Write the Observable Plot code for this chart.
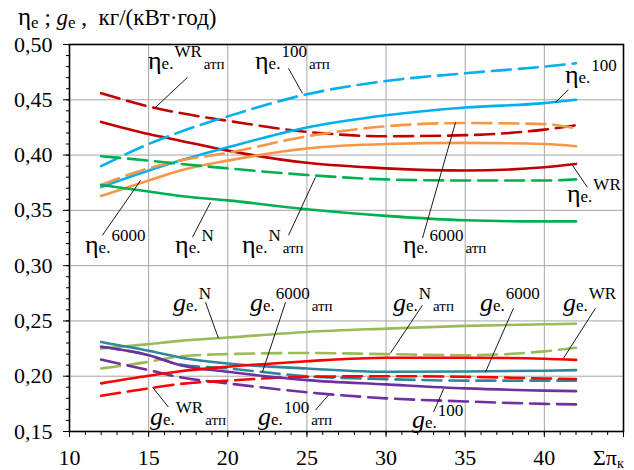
<!DOCTYPE html>
<html><head><meta charset="utf-8">
<script src="https://cdn.jsdelivr.net/npm/d3@7"></script>
<script src="https://cdn.jsdelivr.net/npm/@observablehq/plot@0.6"></script>
<style>body{margin:0;background:#fff} svg text, svg tspan{font-family:"Liberation Serif","Times New Roman",serif !important;}</style>
</head><body><div id="chart"></div>
<script>
// Σπк values
const xs = [12, 15, 17, 20, 25, 30, 35, 40, 42];
// efficiency curves
const etaWRatp  = [0.456, 0.444, 0.438, 0.431, 0.421, 0.417, 0.418, 0.423, 0.427];
const etaWR     = [0.430, 0.419, 0.413, 0.404, 0.393, 0.388, 0.386, 0.389, 0.392];
const eta100atp = [0.390, 0.410, 0.421, 0.435, 0.455, 0.467, 0.474, 0.480, 0.483];
const eta100    = [0.371, 0.386, 0.395, 0.407, 0.425, 0.436, 0.443, 0.447, 0.450];
const eta6000atp= [0.373, 0.388, 0.395, 0.402, 0.417, 0.426, 0.429, 0.428, 0.424];
const eta6000   = [0.363, 0.377, 0.386, 0.395, 0.406, 0.410, 0.411, 0.410, 0.408];
const etaNatp   = [0.399, 0.395, 0.392, 0.388, 0.382, 0.378, 0.377, 0.377, 0.378];
const etaN      = [0.373, 0.367, 0.363, 0.359, 0.351, 0.345, 0.341, 0.340, 0.340];
// specific consumption curves
const gN        = [0.225, 0.229, 0.232, 0.235, 0.240, 0.243, 0.2455, 0.247, 0.2475];
const gNatp     = [0.207, 0.213, 0.218, 0.220, 0.221, 0.220, 0.219, 0.2225, 0.2257];
const g6000atp  = [0.2266, 0.219, 0.2105, 0.207, 0.200, 0.1974, 0.196, 0.196, 0.196];
const g6000     = [0.231, 0.223, 0.217, 0.2115, 0.207, 0.204, 0.2043, 0.205, 0.2055];
const g100atp   = [0.215, 0.2055, 0.199, 0.1935, 0.1855, 0.180, 0.1772, 0.175, 0.1745];
const gWRatp    = [0.1823, 0.189, 0.193, 0.196, 0.1995, 0.200, 0.1995, 0.198, 0.1975];
const g100      = [0.2266, 0.219, 0.210, 0.204, 0.1965, 0.1926, 0.189, 0.187, 0.1865];
const gWR       = [0.1935, 0.2004, 0.2045, 0.2085, 0.2136, 0.2167, 0.2167, 0.2158, 0.2148];

const xTicks = [10, 15, 20, 25, 30, 35, 40, 45];
const yTicks = [0.15, 0.20, 0.25, 0.30, 0.35, 0.40, 0.45, 0.50];

const DASH = "19,8";
const series = [
  {v: etaWRatp, c: "#c00000", d: DASH},
  {v: etaWR, c: "#c00000", d: null},
  {v: eta100atp, c: "#00b0f0", d: DASH},
  {v: eta100, c: "#00b0f0", d: null},
  {v: eta6000atp, c: "#f79646", d: DASH},
  {v: eta6000, c: "#f79646", d: null},
  {v: etaNatp, c: "#00b050", d: DASH},
  {v: etaN, c: "#00b050", d: null},
  {v: gN, c: "#9bbb59", d: null},
  {v: gNatp, c: "#9bbb59", d: DASH},
  {v: g6000atp, c: "#31859c", d: DASH},
  {v: g6000, c: "#31859c", d: null},
  {v: g100atp, c: "#7030a0", d: DASH},
  {v: gWRatp, c: "#ff0000", d: DASH},
  {v: g100, c: "#7030a0", d: null},
  {v: gWR, c: "#ff0000", d: null}
];

// annotation labels (data coordinates)
const labels = [
  {b:"η", sup:"WR", sub:"атп", x:14.99, y:0.4774, x1:17.45, y1:0.4702, x2:15.43, y2:0.4431},
  {b:"η", sup:"100", sub:"атп", x:21.75, y:0.4774, x1:23.84, y1:0.4783, x2:24.72, y2:0.4557},
  {b:"η", sup:"100", sub:"", x:41.33, y:0.4648, x1:41.52, y1:0.4593, x2:40.70, y2:0.4476},
  {b:"η", sup:"WR", sub:"", x:41.46, y:0.3573, x1:42.72, y1:0.3708, x2:41.78, y2:0.3907},
  {b:"η", sup:"6000", sub:"", x:11.01, y:0.3112, x1:12.08, y1:0.3275, x2:14.49, y2:0.3771},
  {b:"η", sup:"N", sub:"", x:16.70, y:0.3112, x1:17.77, y1:0.3257, x2:18.91, y2:0.3573},
  {b:"η", sup:"N", sub:"атп", x:20.93, y:0.3112, x1:23.84, y1:0.3275, x2:25.54, y2:0.3799},
  {b:"η", sup:"6000", sub:"атп", x:31.10, y:0.3112, x1:32.30, y1:0.3248, x2:34.39, y2:0.4295},
  {b:"g", sup:"N", sub:"", x:16.57, y:0.2588, x1:18.59, y1:0.2669, x2:19.41, y2:0.2344},
  {b:"g", sup:"6000", sub:"атп", x:21.43, y:0.2588, x1:23.65, y1:0.2669, x2:22.19, y2:0.2037},
  {b:"g", sup:"N", sub:"атп", x:30.47, y:0.2588, x1:32.30, y1:0.2642, x2:30.28, y2:0.2209},
  {b:"g", sup:"6000", sub:"", x:35.97, y:0.2588, x1:38.05, y1:0.2615, x2:36.28, y2:0.2037},
  {b:"g", sup:"WR", sub:"", x:41.21, y:0.2588, x1:43.23, y1:0.2615, x2:41.21, y2:0.2163},
  {b:"g", sup:"WR", sub:"атп", x:15.12, y:0.1558, x1:16.25, y1:0.1721, x2:15.24, y2:0.1901},
  {b:"g", sup:"100", sub:"атп", x:21.94, y:0.1558, x1:25.54, y1:0.1694, x2:26.36, y2:0.1829},
  {b:"g", sup:"100", sub:"", x:31.67, y:0.1531, x1:33.00, y1:0.1676, x2:33.63, y2:0.1883}
];

const FONT = "Liberation Serif";
const fmt = d => d.toFixed(2).replace(".", ",");

const marks = [
  Plot.gridX([15, 20, 25, 30, 35, 40], {stroke: "#a6a6a6", strokeOpacity: 1, strokeWidth: 1}),
  Plot.gridY(yTicks.slice(1, -1), {stroke: "#a6a6a6", strokeOpacity: 1, strokeWidth: 1}),
  Plot.axisY(d3.range(15, 51).map(d => d / 100), {tickSize: 3, tickFormat: () => "", stroke: "black"}),
  Plot.axisY(yTicks, {tickSize: 6, tickPadding: 11, fontSize: 22, fontFamily: FONT, tickFormat: fmt, stroke: "black", fill: "black"}),
  Plot.axisX(d3.range(10, 46), {tickSize: 4, tickFormat: () => "", stroke: "black"}),
  Plot.axisX(xTicks, {tickSize: 6, tickPadding: 12, fontSize: 22, fontFamily: FONT, tickFormat: d => d === 45 ? "" : d, stroke: "black", fill: "black"})
];
for (const s of series) {
  const data = xs.map((x, i) => ({x, y: s.v[i]}));
  marks.push(Plot.line(data, {x: "x", y: "y", stroke: s.c, strokeWidth: 2.6, strokeDasharray: s.d, curve: "monotone-x"}));
}
marks.push(Plot.link(labels, {x1: "x1", y1: "y1", x2: "x2", y2: "y2", stroke: "black", strokeWidth: 0.9}));
marks.push(Plot.frame({stroke: "black", strokeWidth: 1.6}));

const plot = Plot.plot({
  width: 634, height: 470,
  marginLeft: 69, marginRight: 11, marginTop: 44, marginBottom: 39,
  x: {domain: [10, 45], axis: null},
  y: {domain: [0.15, 0.50], axis: null},
  style: {fontFamily: FONT, background: "white", color: "black"},
  marks
});
document.getElementById("chart").append(plot);

const svg = d3.select(plot);
const sx = plot.scale("x"), sy = plot.scale("y");
const g = svg.append("g").attr("text-anchor", "start").attr("fill", "black");
for (const l of labels) {
  const t = g.append("text").attr("x", sx.apply(l.x)).attr("y", sy.apply(l.y));
  t.append("tspan").attr("font-size", 26).attr("font-style", l.b === "g" ? "italic" : null).text(l.b);
  t.append("tspan").attr("font-size", 17).text("e.");
  t.append("tspan").attr("font-size", 17).attr("dy", -12).attr("dx", 1).text(l.sup);
  if (l.sub) t.append("tspan").attr("font-size", 15).attr("dy", 12).attr("dx", 2).text(l.sub);
}
// title
const tt = g.append("text").attr("x", 18).attr("y", 25).attr("font-size", 23);
tt.append("tspan").attr("font-size", 25).text("η");
tt.append("tspan").attr("font-size", 17).attr("dy", 3).text("e");
tt.append("tspan").attr("dy", -3).text(" ; ");
tt.append("tspan").attr("font-style", "italic").text("g");
tt.append("tspan").attr("font-size", 17).attr("dy", 3).text("e");
tt.append("tspan").attr("dy", -3).text(" ,  кг/(кВт·год)");
// x axis label
const xl = g.append("text").attr("x", 593).attr("y", 465).attr("font-size", 22);
xl.append("tspan").text("Σπ");
xl.append("tspan").attr("font-size", 14).attr("dy", 3).text("к");
</script></body></html>
